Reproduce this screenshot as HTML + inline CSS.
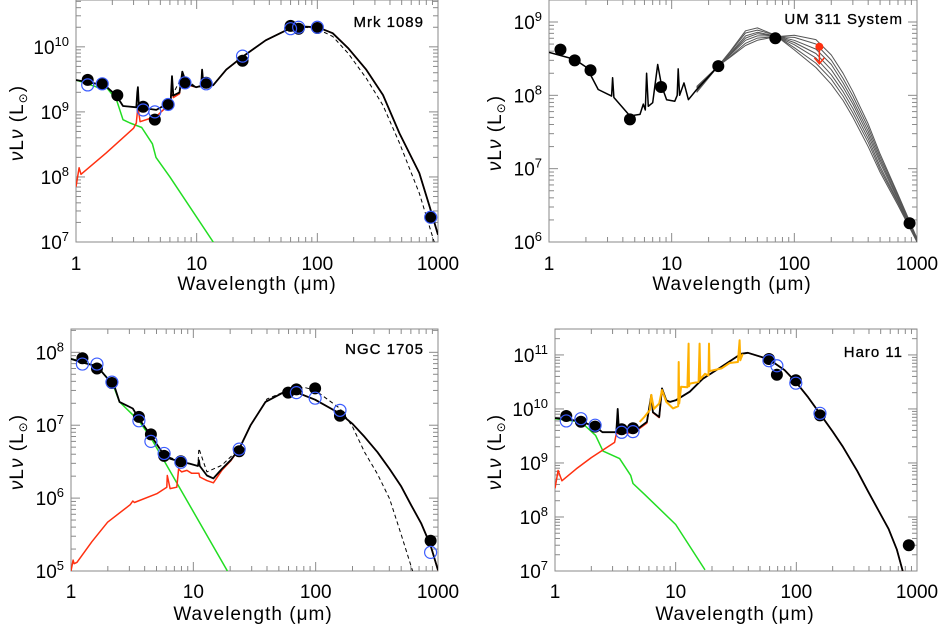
<!DOCTYPE html>
<html><head><meta charset="utf-8"><style>
html,body{margin:0;padding:0;background:#fff;}
svg{display:block;font-family:"Liberation Sans",sans-serif;}
</style></head><body>
<svg id="fig" width="940" height="624" viewBox="0 0 940 624" xmlns="http://www.w3.org/2000/svg"></svg>
<script>
// ===== Panel 1: Mrk 1089 =====
const p1PtLam=[1.25,1.65,2.2,3.6,4.5,5.8,8,12,24,60,70,100,870];
const p1PtLum=[3.1e9,2.7e9,1.8e9,1.2e9,7.6e8,1.3e9,2.8e9,2.8e9,6.1e9,2.1e10,1.9e10,1.95e10,2.4e7];
const p1OpLam=[1.25,1.65,3.6,4.5,5.8,8,12,24,60,70,100,870];
const p1OpLum=[2.6e9,2.7e9,1.07e9,1.0e9,1.3e9,2.8e9,2.7e9,7.2e9,1.9e10,2.0e10,2.0e10,2.4e7];
const p1Black=[[1,9.49],[1.5,9.43],[1.78,9.39],[2.16,9.25],[2.45,9.09],[3.16,9.07],[3.22,9.3],[3.26,9.38],[3.32,9.07],[3.59,9.06],[4.63,9.03],[5.79,9.13],[6.1,9.2],[6.24,9.55],[6.4,9.25],[7.2,9.3],[7.6,9.62],[8.2,9.44],[9.9,9.38],[10.9,9.4],[11.1,9.65],[11.4,9.4],[13.7,9.41],[17.6,9.65],[24.1,9.85],[37.3,10.10],[59,10.28],[80,10.31],[101,10.30],[134,10.21],[180,9.98],[254,9.65],[350,9.26],[480,8.67],[700,8.06],[850,7.55],[1000,7.11]];
const p1Dash=[[1,9.49],[1.5,9.43],[1.78,9.39],[2.16,9.25],[2.45,9.09],[3.16,9.07],[3.59,9.06],[4.63,9.03],[5.79,9.13],[7.6,9.55],[9.9,9.38],[13.7,9.41],[17.6,9.65],[24.1,9.85],[37.3,10.10],[59,10.28],[80,10.30],[101,10.27],[134,10.16],[180,9.9],[254,9.52],[350,9.1],[480,8.52],[700,7.75],[930,7.0]];
const p1Red=[[1,7.85],[1.06,8.14],[1.1,8.04],[1.78,8.37],[3.0,8.75],[3.16,8.83],[3.26,9.08],[3.4,8.85],[4.63,8.93],[5.79,9.10],[6.1,9.18],[6.24,9.5],[6.4,9.22],[7.2,9.28],[7.6,9.6],[8.2,9.42],[9.9,9.38],[10.9,9.4],[11.1,9.63],[11.4,9.4],[13.7,9.41],[17.6,9.65],[24.1,9.85],[37.3,10.10],[59,10.28],[80,10.31],[101,10.30],[134,10.21],[180,9.98],[254,9.65],[350,9.26],[480,8.67],[700,8.06],[850,7.55],[1000,7.11]];
const p1Green=[[1,9.49],[1.5,9.38],[1.78,9.38],[2.16,9.19],[2.45,8.88],[2.8,8.83],[3.5,8.76],[4.3,8.51],[4.6,8.30],[6,8.0],[13.7,7.0],[20,6.6]];

// ===== Panel 2: UM 311 =====
const p2PtLam=[1.24,1.62,2.18,4.57,8.2,24,70,870];
const p2PtLum=[4.2e8,3.0e8,2.2e8,4.7e7,1.3e8,2.5e8,6.0e8,1.8e6];
const p2LimLam=[160];
const p2LimLum=[4.6e8];
const p2Black=[[1,8.585],[1.62,8.49],[2.03,8.38],[2.52,8.08],[3.24,7.99],[3.30,8.24],[3.38,7.97],[4.57,7.72],[5.52,7.74],[5.87,7.88],[6.1,7.8],[6.25,8.30],[6.45,7.85],[7.0,7.9],[7.69,8.42],[8.28,8.13],[9.1,7.94],[10.6,7.92],[11.1,8.0],[11.3,8.36],[11.6,8.0],[12.6,8.17],[13.7,7.94],[16,8.08],[24,8.40]];
const p2FamLam=[16,24,30,40,50,70,100,150,200,250,300,400,500,700,1000];
const p2Fam0=[8.12,8.40,8.60,8.88,8.92,8.82,8.62,8.38,8.15,7.93,7.70,7.30,6.95,6.50,6.00];
const p2Fam1=[8.11,8.40,8.59,8.85,8.89,8.82,8.65,8.44,8.22,7.99,7.76,7.36,6.99,6.53,6.01];
const p2Fam2=[8.10,8.40,8.57,8.81,8.86,8.81,8.69,8.51,8.28,8.05,7.82,7.41,7.03,6.55,6.02];
const p2Fam3=[8.08,8.40,8.56,8.78,8.84,8.81,8.72,8.57,8.35,8.11,7.88,7.46,7.08,6.58,6.03];
const p2Fam4=[8.07,8.40,8.55,8.75,8.81,8.81,8.75,8.63,8.42,8.17,7.93,7.51,7.12,6.60,6.03];
const p2Fam5=[8.05,8.40,8.53,8.71,8.78,8.80,8.79,8.70,8.48,8.23,7.99,7.56,7.16,6.63,6.04];
const p2Fam6=[8.04,8.40,8.52,8.68,8.75,8.80,8.82,8.76,8.55,8.30,8.05,7.61,7.20,6.65,6.05];

// ===== Panel 3: NGC 1705 =====
const p3PtLam=[1.24,1.63,2.16,3.59,4.5,5.77,7.9,23.7,59.6,69.6,99,158,870];
const p3PtLum=[8.3e7,6.0e7,3.8e7,1.3e7,7.5e6,3.8e6,3.2e6,4.4e6,2.8e7,3.1e7,3.2e7,1.35e7,2.6e5];
const p3OpLam=[1.24,1.63,2.16,3.59,4.5,5.77,7.9,23.7,69.6,99,158,870];
const p3OpLum=[6.9e7,6.9e7,3.9e7,1.15e7,6.0e6,4.1e6,3.1e6,4.7e6,2.8e7,2.35e7,1.6e7,1.8e5];
const p3Black=[[1,7.91],[1.24,7.86],[1.63,7.81],[1.99,7.64],[2.23,7.57],[2.49,7.32],[3.2,7.23],[3.59,7.09],[4.49,6.86],[5.77,6.59],[6.46,6.54],[7.93,6.50],[9.4,6.47],[10.9,6.44],[11.1,6.52],[11.3,6.44],[12.9,6.31],[14.6,6.27],[17.1,6.40],[20.2,6.52],[23.8,6.68],[29.4,7.0],[38.9,7.32],[54.5,7.45],[69.9,7.45],[99,7.35],[158,7.16],[200,7.02],[251,6.84],[320,6.63],[402,6.40],[500,6.16],[605,5.90],[730,5.65],[870,5.35],[1000,5.01]];
const p3Dash=[[1,7.91],[1.24,7.86],[1.63,7.81],[1.99,7.64],[2.23,7.57],[2.49,7.32],[3.2,7.23],[3.59,7.09],[4.49,6.86],[5.77,6.59],[7.93,6.50],[10.9,6.44],[11.1,6.68],[12.9,6.36],[17.1,6.45],[23.8,6.68],[29.4,7.0],[40,7.36],[59.6,7.48],[80,7.52],[99,7.48],[158,7.23],[200,6.98],[251,6.63],[320,6.33],[402,5.99],[500,5.5],[620,5.0]];
const p3Red=[[1,5.0],[1.04,5.15],[1.06,5.10],[1.12,5.12],[1.48,5.40],[1.99,5.67],[3.05,5.91],[3.2,5.96],[3.3,5.94],[5.03,6.06],[6.07,6.15],[6.13,6.31],[6.46,6.13],[7.33,6.15],[7.58,6.40],[8.04,6.36],[8.86,6.38],[9.7,6.34],[11.1,6.34],[11.3,6.29],[12.9,6.24],[14.6,6.21],[17.1,6.38],[20.2,6.51],[23.8,6.68],[29.4,7.0],[38.9,7.32],[54.5,7.45],[69.9,7.45],[99,7.35],[158,7.16],[200,7.02],[251,6.84],[320,6.63],[402,6.40],[500,6.16],[605,5.90],[730,5.65],[870,5.35],[1000,5.01]];
const p3Green=[[1,7.91],[1.63,7.81],[2.2,7.56],[2.49,7.32],[3.59,7.06],[4.49,6.83],[19,5.0]];

// ===== Panel 4: Haro 11 =====
const p4PtLam=[1.24,1.64,2.15,3.57,4.43,59.3,69,99,157,855];
const p4PtLum=[7.4e9,5.8e9,4.7e9,4.2e9,4.4e9,8.4e10,4.3e10,3.4e10,7.6e9,3.0e7];
const p4OpLam=[1.24,1.64,2.15,3.57,4.43,59.3,69,99,157];
const p4OpLum=[6.0e9,6.6e9,5.0e9,3.7e9,3.8e9,7.8e10,6.3e10,3.0e10,8.3e9];
const p4Black=[[1,9.83],[1.24,9.81],[1.64,9.77],[2.17,9.67],[2.47,9.57],[3.22,9.57],[3.31,10.0],[3.39,9.58],[4.49,9.58],[5.03,9.66],[5.78,9.76],[6.28,10.26],[6.48,9.94],[7.3,9.85],[7.7,10.38],[8.37,10.16],[9.0,10.13],[10.0,10.16],[13.1,10.32],[16.8,10.56],[24,10.78],[34.9,11.02],[39.7,11.04],[59.3,10.92],[80,10.72],[99,10.50],[125,10.22],[157,9.91],[200,9.58],[243,9.30],[320,8.85],[392,8.48],[480,8.12],[582,7.78],[680,7.40],[761,7.0]];
const p4Red=[[1,8.53],[1.06,8.86],[1.14,8.67],[1.5,8.89],[2.0,9.10],[3.12,9.38],[3.22,9.54],[3.43,9.55],[4.49,9.56],[5.03,9.64],[5.78,9.74],[6.28,10.24],[6.48,9.93],[7.3,9.84],[7.7,10.36],[8.37,10.15],[9.0,10.13],[10.0,10.16],[13.1,10.32],[16.8,10.56],[24,10.78],[34.9,11.02],[39.7,11.04],[59.3,10.92],[80,10.72],[99,10.50],[125,10.22],[157,9.91],[200,9.58],[243,9.30],[320,8.85],[392,8.48],[480,8.12],[582,7.78],[680,7.40],[761,7.0]];
const p4Green=[[1,9.82],[1.64,9.76],[1.94,9.61],[2.17,9.51],[2.5,9.22],[3.43,9.08],[4.24,8.77],[4.43,8.62],[5.57,8.41],[10,7.86],[17.5,7.02]];
const p4Orange=[[5.03,9.76],[5.5,9.85],[6.1,9.98],[6.28,10.26],[6.6,10.0],[7.3,10.1],[7.7,10.35],[8.37,10.13],[9.5,10.01],[10.5,10.05],[10.6,10.87],[10.7,10.1],[11.1,10.41],[12.5,10.4],[12.8,11.21],[12.9,10.42],[13.1,10.47],[15.5,10.5],[15.8,11.21],[16,10.55],[17.5,10.65],[18.7,10.62],[18.9,11.21],[19.1,10.7],[24,10.75],[28,10.85],[32.8,10.87],[33.9,11.27],[34.3,10.9],[36,11.02]];

const SVGNS="http://www.w3.org/2000/svg";
const svg=document.getElementById('fig');
function mk(tag,attrs,parent){const e=document.createElementNS(SVGNS,tag);for(const k in attrs)e.setAttribute(k,attrs[k]);(parent||svg).appendChild(e);return e;}

const panels=[
 {id:'p1',title:'Mrk 1089',x0:76,x1:438,yb:242,yt:0,lmin:7,lmax:10.72,yTitleX:17,yTitleY:123,xTitleX:257,xTitleY:290,xLabY:270,titleY:27},
 {id:'p2',title:'UM 311 System',x0:549,x1:917,yb:242,yt:0,lmin:6,lmax:9.3,yTitleX:495,yTitleY:133,xTitleX:732,xTitleY:290,xLabY:270,titleY:24},
 {id:'p3',title:'NGC 1705',x0:71,x1:438,yb:571,yt:329,lmin:5,lmax:8.32,yTitleX:17,yTitleY:452,xTitleX:253,xTitleY:620,xLabY:598,titleY:354},
 {id:'p4',title:'Haro 11',x0:555,x1:917,yb:571,yt:329,lmin:7,lmax:11.48,yTitleX:495,yTitleY:452,xTitleX:735,xTitleY:620,xLabY:598,titleY:357}
];

function xs(p,lam){return p.x0+(Math.log10(lam))/3*(p.x1-p.x0);}
function ys(p,lg){return p.yb-(lg-p.lmin)/(p.lmax-p.lmin)*(p.yb-p.yt);}

function drawCurve(p,g,arr,color,width,dash,name){
  const d=arr.map((q,i)=>(i?'L':'M')+xs(p,q[0]).toFixed(1)+' '+ys(p,q[1]).toFixed(1)).join(' ');
  const path=mk('path',{d:d,fill:'none',stroke:color,'stroke-width':width,'stroke-dasharray':dash||'none','stroke-linejoin':'round'},g);
  
  
}
function drawFilled(p,g,lams,lums,name){
  for(let i=0;i<lams.length;i++){
    const c=mk('circle',{cx:xs(p,lams[i]),cy:ys(p,Math.log10(lums[i])),r:6,fill:'#000'},g);
    
    
  }
}
function drawOpen(p,g,lams,lums,name){
  for(let i=0;i<lams.length;i++){
    const c=mk('circle',{cx:xs(p,lams[i]),cy:ys(p,Math.log10(lums[i])),r:6,fill:'none',stroke:'#3a5cff','stroke-width':1.2},g);
    
    
  }
}

function drawAxes(p){
  const g=mk('g',{});
  
  
  const col='#8a8a8a';
  mk('rect',{x:p.x0,y:p.yt,width:p.x1-p.x0,height:p.yb-p.yt,fill:'none',stroke:col,'stroke-width':1},g);
  for(let dec=0;dec<3;dec++){
    for(let m=2;m<=9;m++){
      const x=xs(p,Math.pow(10,dec)*m);
      mk('line',{x1:x,y1:p.yb,x2:x,y2:p.yb-5,stroke:col},g);mk('line',{x1:x,y1:p.yt,x2:x,y2:p.yt+5,stroke:col},g);
    }
  }
  for(let dec=0;dec<=3;dec++){
    const x=xs(p,Math.pow(10,dec));
    mk('line',{x1:x,y1:p.yb,x2:x,y2:p.yb-9,stroke:col},g);mk('line',{x1:x,y1:p.yt,x2:x,y2:p.yt+9,stroke:col},g);
    const t=mk('text',{x:x,y:p.xLabY,'font-size':19,'text-anchor':'middle',fill:'#000'},g);
    t.textContent=String(Math.pow(10,dec));
    
    
  }
  for(let dec=Math.floor(p.lmin);dec<=Math.ceil(p.lmax);dec++){
    for(let m=1;m<=9;m++){
      const lg=dec+Math.log10(m); if(lg<p.lmin-1e-6||lg>p.lmax) continue;
      const y=ys(p,lg); const L=m===1?9:5;
      mk('line',{x1:p.x0,y1:y,x2:p.x0+L,y2:y,stroke:col},g);
      mk('line',{x1:p.x1,y1:y,x2:p.x1-L,y2:y,stroke:col},g);
      if(m===1){
        const t=mk('text',{x:p.x0-7,y:y+7,'font-size':19,'text-anchor':'end',fill:'#000'},g);
        
        
        const a=mk('tspan',{},t);a.textContent='10';
        const b=mk('tspan',{'font-size':13,dy:-8},t);b.textContent=String(dec);
      }
    }
  }
  const xt=mk('text',{x:p.xTitleX,y:p.xTitleY,'font-size':19,'text-anchor':'middle','letter-spacing':1,fill:'#000'},g);
  xt.textContent='Wavelength (μm)';
  
  
  const yt=mk('text',{x:p.yTitleX,y:p.yTitleY,'font-size':19,'text-anchor':'middle','letter-spacing':1,fill:'#000',transform:'rotate(-90 '+p.yTitleX+' '+p.yTitleY+')',dy:6},g);
  
  
  const s1=mk('tspan',{'font-style':'italic'},yt);s1.textContent='ν';
  const s2=mk('tspan',{},yt);s2.textContent='L';
  const s3=mk('tspan',{'font-style':'italic'},yt);s3.textContent='ν';
  const s4=mk('tspan',{},yt);s4.textContent=' (L';
  const s5=mk('tspan',{'font-size':12,dy:4},yt);s5.textContent='⊙';
  const s6=mk('tspan',{dy:-4},yt);s6.textContent=')';
  const tt=mk('text',{x:p.x1-14,y:p.titleY,'font-size':15,'text-anchor':'end','letter-spacing':1,fill:'#000','stroke':'#000','stroke-width':0.3},g);
  tt.textContent=p.title;
  
  
}

panels.forEach((p,i)=>{
  const cp=mk('clipPath',{id:'clip'+i});
  mk('rect',{x:p.x0,y:p.yt,width:p.x1-p.x0,height:p.yb-p.yt},cp);
});
panels.forEach((p,i)=>{
  drawAxes(p);
  const g=mk('g',{'clip-path':'url(#clip'+i+')'});
  
  
  const g2=mk('g',{});
  
  
  if(i===0){
    drawCurve(p,g,p1Green,'#22dd22',1.5,null,'stellar-model-curve');
    drawCurve(p,g,p1Red,'#ff3010',1.5,null,'dust-model-curve');
    drawCurve(p,g,p1Dash,'#000',1,'4,3','alt-model-curve');
    drawCurve(p,g,p1Black,'#000',1.8,null,'total-model-curve');
    drawFilled(p,g2,p1PtLam,p1PtLum,'observed-point');
    drawOpen(p,g2,p1OpLam,p1OpLum,'model-point');
  } else if(i===1){
    [p2Fam0,p2Fam1,p2Fam2,p2Fam3,p2Fam4,p2Fam5,p2Fam6].forEach(f=>{
      drawCurve(p,g,p2FamLam.map((l,k)=>[l,f[k]]),'#555',1,null,'model-family-curve');
    });
    drawCurve(p,g,p2Black,'#000',1.5,null,'total-model-curve');
    drawFilled(p,g2,p2PtLam,p2PtLum,'observed-point');
    for(let k=0;k<p2LimLam.length;k++){
      const x=xs(p,p2LimLam[k]),y=ys(p,Math.log10(p2LimLum[k]));
      const lg=mk('g',{},g2);
      
      
      mk('line',{x1:x,y1:y,x2:x,y2:y+16,stroke:'#ff3010','stroke-width':1.5},lg);
      mk('path',{d:`M${x-5} ${y+11} L${x} ${y+17} L${x+5} ${y+11}`,fill:'none',stroke:'#ff3010','stroke-width':1.5},lg);
      mk('circle',{cx:x,cy:y,r:4,fill:'#ff3010'},lg);
    }
  } else if(i===2){
    drawCurve(p,g,p3Green,'#22dd22',1.5,null,'stellar-model-curve');
    drawCurve(p,g,p3Red,'#ff3010',1.5,null,'dust-model-curve');
    drawCurve(p,g,p3Dash,'#000',1,'4,3','alt-model-curve');
    drawCurve(p,g,p3Black,'#000',1.8,null,'total-model-curve');
    drawFilled(p,g2,p3PtLam,p3PtLum,'observed-point');
    drawOpen(p,g2,p3OpLam,p3OpLum,'model-point');
  } else {
    drawCurve(p,g,p4Green,'#22dd22',1.5,null,'stellar-model-curve');
    drawCurve(p,g,p4Red,'#ff3010',1.5,null,'dust-model-curve');
    drawCurve(p,g,p4Black,'#000',1.8,null,'total-model-curve');
    drawCurve(p,g,p4Orange,'#ffb000',2,null,'irs-spectrum-curve');
    drawFilled(p,g2,p4PtLam,p4PtLum,'observed-point');
    drawOpen(p,g2,p4OpLam,p4OpLum,'model-point');
  }
});
</script>
</body></html>
